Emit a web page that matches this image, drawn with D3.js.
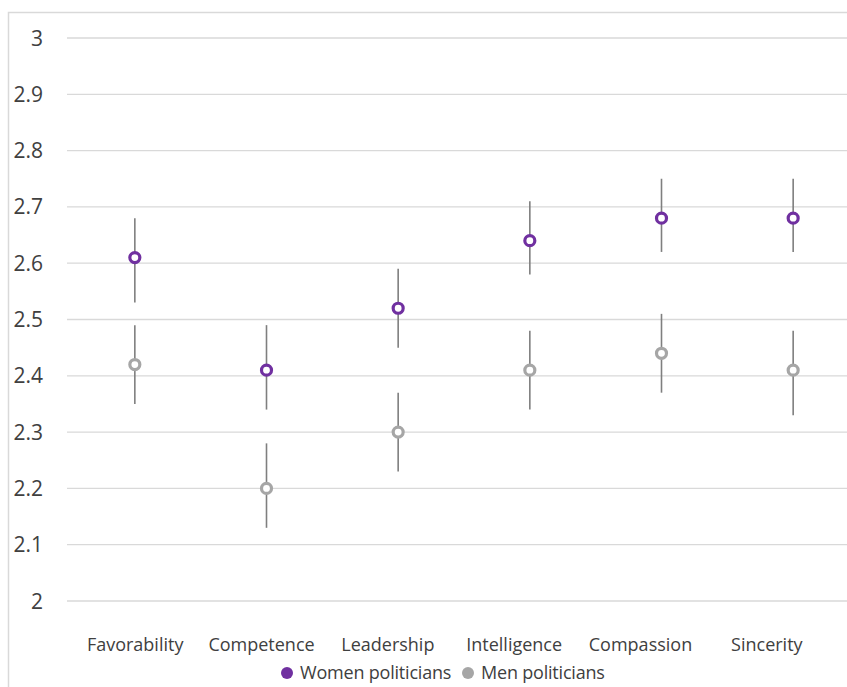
<!DOCTYPE html>
<html>
<head>
<meta charset="utf-8">
<script src="https://cdn.jsdelivr.net/npm/d3@7"></script>
<style>
  body { margin: 0; background: #fff; }
  svg { display: block; font-family: 'Open Sans', sans-serif; }
</style>
</head>
<body>
<div id="chart"></div>
<script>
const categories = ['Favorability', 'Competence', 'Leadership', 'Intelligence', 'Compassion', 'Sincerity'];
const womenMean = [2.61, 2.41, 2.52, 2.64, 2.68, 2.68];
const womenLow  = [2.53, 2.34, 2.45, 2.58, 2.62, 2.62];
const womenHigh = [2.68, 2.49, 2.59, 2.71, 2.75, 2.75];
const menMean = [2.42, 2.20, 2.30, 2.41, 2.44, 2.41];
const menLow  = [2.35, 2.13, 2.23, 2.34, 2.37, 2.33];
const menHigh = [2.49, 2.28, 2.37, 2.48, 2.51, 2.48];
const yTicks = [2, 2.1, 2.2, 2.3, 2.4, 2.5, 2.6, 2.7, 2.8, 2.9, 3];
const seriesNames = ['Women politicians', 'Men politicians'];

const W = 847, H = 687;
const purple = '#7030a0', grey = '#a6a6a6';

const svg = d3.select('#chart').append('svg')
  .attr('width', W)
  .attr('height', H);

// outer frame (runs off the right/bottom edge like the screenshot)
svg.append('rect')
  .attr('x', 8.5).attr('y', 12.5)
  .attr('width', W + 20).attr('height', H + 20)
  .attr('fill', 'none')
  .attr('stroke', '#d9d9d9')
  .attr('stroke-width', 1.5);

const y = d3.scaleLinear().domain([2, 3]).range([601, 38]);
const x = d3.scaleBand().domain(categories).range([69, 859]);
// category labels sit slightly off the points in the original
const xLab = d3.scaleBand().domain(categories).range([72, 830]);

// gridlines
svg.append('g')
  .selectAll('line')
  .data(yTicks)
  .enter()
  .append('line')
  .attr('x1', 67)
  .attr('x2', W)
  .attr('y1', d => y(d))
  .attr('y2', d => y(d))
  .attr('stroke', '#d9d9d9')
  .attr('stroke-width', 1.3);

// y tick labels
svg.append('g')
  .selectAll('text')
  .data(yTicks)
  .enter()
  .append('text')
  .attr('x', 43)
  .attr('y', d => y(d))
  .attr('dy', '0.36em')
  .attr('text-anchor', 'end')
  .attr('font-size', '21px')
  .attr('fill', '#404040')
  .text(d => d3.format('')(d));

// category labels
svg.append('g')
  .selectAll('text')
  .data(categories)
  .enter()
  .append('text')
  .attr('x', d => xLab(d) + xLab.bandwidth() / 2)
  .attr('y', 651)
  .attr('text-anchor', 'middle')
  .attr('font-size', '18px')
  .attr('fill', '#404040')
  .text(d => d);

function drawSeries(mean, low, high, color) {
  const rows = categories.map((c, i) => ({ c, m: mean[i], lo: low[i], hi: high[i] }));
  const g = svg.append('g');
  g.selectAll('line')
    .data(rows)
    .enter()
    .append('line')
    .attr('x1', d => x(d.c) + x.bandwidth() / 2)
    .attr('x2', d => x(d.c) + x.bandwidth() / 2)
    .attr('y1', d => y(d.lo))
    .attr('y2', d => y(d.hi))
    .attr('stroke', '#7f7f7f')
    .attr('stroke-width', 1.6);
  g.selectAll('circle')
    .data(rows)
    .enter()
    .append('circle')
    .attr('cx', d => x(d.c) + x.bandwidth() / 2)
    .attr('cy', d => y(d.m))
    .attr('r', 5)
    .attr('fill', '#fff')
    .attr('stroke', color)
    .attr('stroke-width', 3.2);
}

drawSeries(menMean, menLow, menHigh, grey);
drawSeries(womenMean, womenLow, womenHigh, purple);

// legend
const legend = [
  { name: seriesNames[0], color: purple, cx: 287, tx: 300 },
  { name: seriesNames[1], color: grey, cx: 468, tx: 481 }
];
const lg = svg.append('g');
lg.selectAll('circle')
  .data(legend)
  .enter()
  .append('circle')
  .attr('cx', d => d.cx)
  .attr('cy', 673)
  .attr('r', 6)
  .attr('fill', d => d.color);
lg.selectAll('text')
  .data(legend)
  .enter()
  .append('text')
  .attr('x', d => d.tx)
  .attr('y', 673)
  .attr('dy', '0.35em')
  .attr('font-size', '18px')
  .attr('letter-spacing', '-0.2px')
  .attr('fill', '#404040')
  .text(d => d.name);
</script>
</body>
</html>
